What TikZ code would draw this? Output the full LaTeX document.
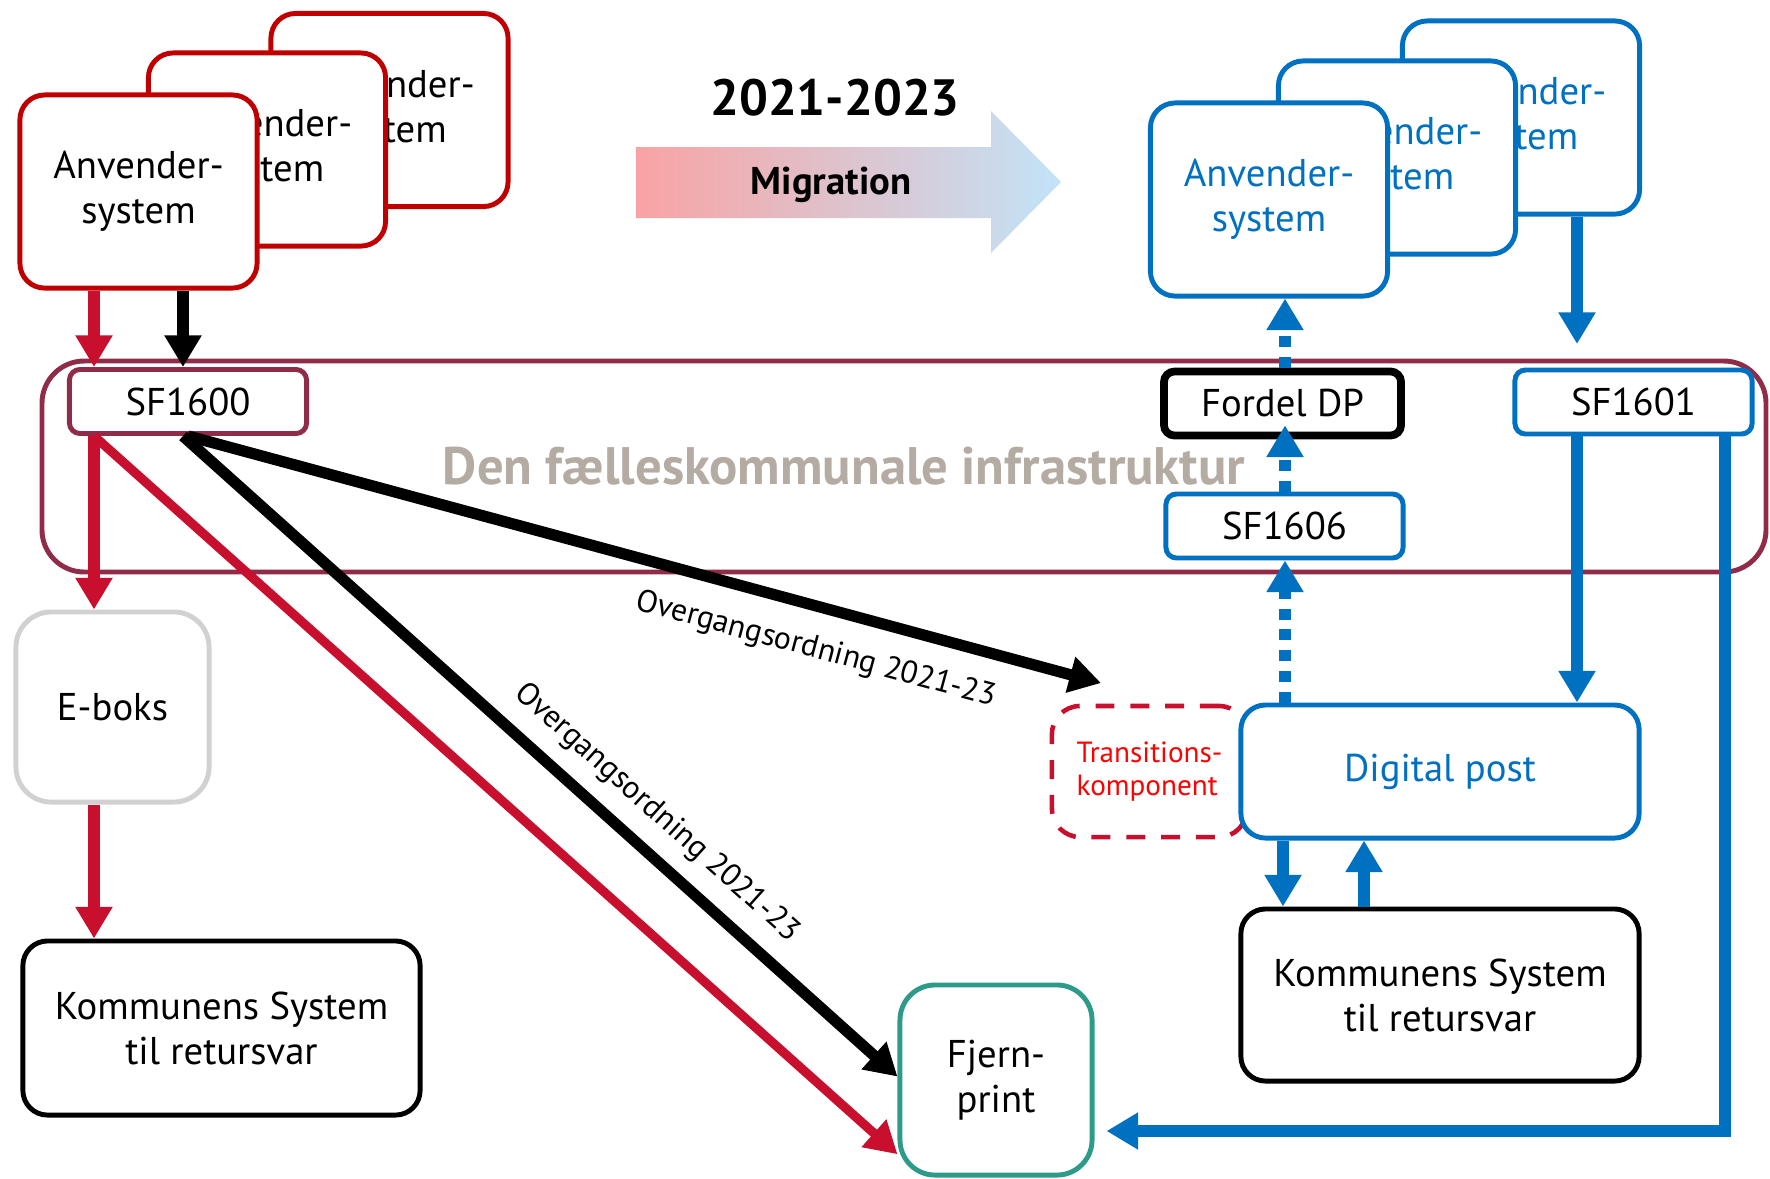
\documentclass[tikz,border=0pt]{standalone}
\usepackage{fontspec}
\setmainfont{PT Sans}
\usetikzlibrary{arrows.meta}
\definecolor{appred}{HTML}{C00000}
\definecolor{arrred}{HTML}{C8102E}
\definecolor{infra}{HTML}{902B48}
\definecolor{dpblue}{HTML}{0070C0}
\definecolor{fpteal}{HTML}{2E9B8A}
\definecolor{infratext}{HTML}{B4ABA3}
\definecolor{migleft}{HTML}{F9A3A3}
\definecolor{migmid}{HTML}{A7C4DC}
\definecolor{migright}{HTML}{C2E3F8}
\begin{document}
\begin{tikzpicture}[x=0.01cm,y=-0.01cm,>={Triangle[length=9pt,width=10pt]},
  box/.style={draw,fill=white,line width=1.4pt,rounded corners=7pt,align=center,
    font=\fontsize{11}{12.8}\selectfont},
  app/.style={box,minimum width=2.37cm,minimum height=1.93cm},
  sf/.style={box,rounded corners=3pt,minimum width=2.37cm,minimum height=0.64cm},
  arr/.style={->,line width=3.2pt},
  dots/.style={arr,dpblue,dash pattern=on 3.1pt off 2.8pt},
  lbl/.style={font=\fontsize{9}{11}\selectfont}]
\useasboundingbox (0,0) rectangle (1770,1178);

\shade[left color=migleft,middle color=migmid,right color=migright]
  (636,147) -- (991,147) -- (991,111) -- (1061,182) -- (991,253) -- (991,218) -- (636,218) -- cycle;
\node[font=\fontsize{14.5}{17}\selectfont\bfseries] (year) at (835,98) {2021-2023};
\node[font=\fontsize{11}{13}\selectfont\bfseries] (mig) at (831,185) {Migration};

\draw[infra,line width=1.4pt,rounded corners=12pt] (42,361) rectangle (1766,572);
\node[infratext,font=\fontsize{15}{17}\selectfont\bfseries] (infra) at (844,466) {Den fælleskommunale infrastruktur};

\node[app,draw=appred] (ra3) at (389.5,110) {Anvender-\\system};
\node[app,draw=appred] (ra2) at (267,149.5) {Anvender-\\system};
\node[app,draw=appred] (ra1) at (138.5,191.5) {Anvender-\\system};

\node[app,draw=dpblue,text=dpblue] (ba3) at (1521,117.5) {Anvender-\\system};
\node[app,draw=dpblue,text=dpblue] (ba2) at (1397,157.5) {Anvender-\\system};
\node[app,draw=dpblue,text=dpblue] (ba1) at (1269,199.5) {Anvender-\\system};

\node[sf,draw=infra] (sf1600) at (188,401.5) {SF1600};
\node[sf,line width=2.2pt] (fordel) at (1282.5,403.5) {Fordel DP};
\node[sf,draw=dpblue] (sf1601) at (1633.5,402) {SF1601};
\node[sf,draw=dpblue] (sf1606) at (1284.5,526) {SF1606};

\node[box,draw=arrred,line width=1.3pt,dash pattern=on 5.4pt off 4.5pt,rounded corners=8pt,
  minimum width=1.95cm,minimum height=1.31cm,text=red,align=left,
  font=\fontsize{8.3}{9.4}\selectfont] (trans) at (1149.5,771.5) {Transitions-\\komponent};
\node[box,draw=dpblue,text=dpblue,minimum width=3.98cm,minimum height=1.33cm] (dp) at (1440,771.5) {Digital post};
\node[box,minimum width=3.98cm,minimum height=1.72cm] (kr) at (1440,995) {Kommunens System\\til retursvar};

\node[box,draw=black!18,rounded corners=10pt,minimum width=1.93cm,minimum height=1.9cm] (eb) at (112.5,707) {E-boks};
\node[box,minimum width=3.97cm,minimum height=1.74cm] (kl) at (221.5,1028) {Kommunens System\\til retursvar};
\node[box,draw=fpteal,rounded corners=10pt,minimum width=1.92cm,minimum height=1.9cm] (fjern) at (996,1080) {Fjern-\\print};

\coordinate (xr) at (94,0);
\coordinate (xk) at (183,0);
\coordinate (xd) at (1285,0);
\coordinate (xs) at (1577,0);
\coordinate (xdn) at (1283,0);
\coordinate (xup) at (1364,0);
\coordinate (b1) at (1577,344);
\coordinate (xf) at (1725,1131);
\coordinate (tc) at (1101,683);

\draw[arr,arrred] (ra1.south -| xr) -- (sf1600.north -| xr);
\draw[arr] (ra1.south -| xk) -- (sf1600.north -| xk);
\draw[arr,arrred] (sf1600.south -| xr) -- (eb.north -| xr);
\draw[arr,arrred] (eb.south -| xr) -- (kl.north -| xr);
\draw[->,line width=2.6pt,arrred] (sf1600.south -| xr) -- (fjern.217);
\draw[arr] (sf1600.south -| xk) -- node[pos=0.63,sloped,above=1pt,lbl]{Overgangsordning 2021-23} (fjern.178);
\draw[arr] (sf1600.south) -- node[pos=0.7,sloped,below=3pt,lbl]{Overgangsordning 2021-23} (tc);

\draw[arr,dpblue] (ba3.south -| b1) -- (b1);
\draw[arr,dpblue] (sf1601.south -| xs) -- (dp.north -| xs);
\draw[arr,dpblue,shorten >=1.2mm] (sf1601.south -| xf) -- (xf) -- (xf -| fjern.east);
\draw[dots] (dp.north -| xd) -- (sf1606.south -| xd);
\draw[dots,shorten >=-1.4mm] (sf1606.north -| xd) -- (fordel.south -| xd);
\draw[dots] (fordel.north -| xd) -- (ba1.south -| xd);
\draw[arr,dpblue] (dp.south -| xdn) -- (kr.north -| xdn);
\draw[arr,dpblue] (kr.north -| xup) -- (dp.south -| xup);

\end{tikzpicture}
\end{document}
